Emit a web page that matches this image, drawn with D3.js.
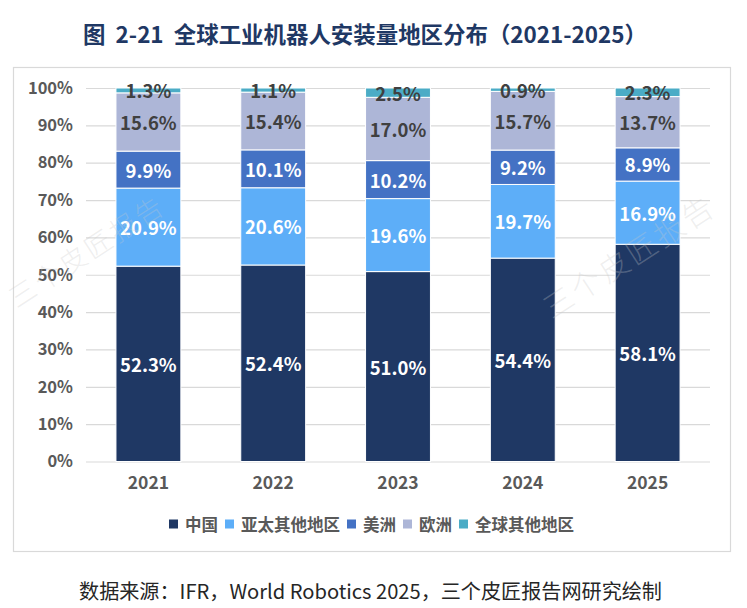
<!DOCTYPE html>
<html><head><meta charset="utf-8">
<script src="https://cdn.jsdelivr.net/npm/d3@7"></script>
<style>
body{margin:0;background:#fff;overflow:hidden}
text{font-family:'Noto Sans CJK SC','Noto Sans',sans-serif}
</style>
</head><body>
<svg id="c" width="747" height="608"></svg>
<script>
// ---- data ----
const years = ['2021','2022','2023','2024','2025'];
const seriesNames = ['中国','亚太其他地区','美洲','欧洲','全球其他地区'];
const china    = [52.3, 52.4, 51.0, 54.4, 58.1];
const apacOther= [20.9, 20.6, 19.6, 19.7, 16.9];
const americas = [9.9, 10.1, 10.2, 9.2, 8.9];
const europe   = [15.6, 15.4, 17.0, 15.7, 13.7];
const otherGlobal = [1.3, 1.1, 2.5, 0.9, 2.3];
const yTicks = [0,0.1,0.2,0.3,0.4,0.5,0.6,0.7,0.8,0.9,1.0];
const titleText = '图\u00A0\u00A02-21\u00A0\u00A0全球工业机器人安装量地区分布（2021-2025）';
const sourceText = '数据来源：IFR，World Robotics 2025，三个皮匠报告网研究绘制';
const watermarkText = '三个皮匠报告';

const colors = ['#1F3864','#5DAEF8','#4472C4','#ADB6D7','#4BACC6'];
const labelColors = ['#ffffff','#ffffff','#ffffff','#404040','#404040'];

const seriesVals = [china, apacOther, americas, europe, otherGlobal];
const table = years.map((y,i)=>{
  const o = {year:y};
  seriesNames.forEach((s,k)=>o[s]=seriesVals[k][i]);
  return o;
});

const svg = d3.select('#c');
svg.append('rect').attr('width',747).attr('height',608).attr('fill','#fff');

function fitWidth(sel, target){
  const node = sel.node();
  const fs = parseFloat(sel.attr('font-size'));
  const w = node.getComputedTextLength();
  if (w>0) sel.attr('font-size', (fs*target/w).toFixed(2));
}

// title
const title = svg.append('text').attr('x',365).attr('y',33)
  .attr('text-anchor','middle').attr('dominant-baseline','central')
  .attr('font-size',22).attr('font-weight','bold').attr('fill','#1F3864')
  .style('white-space','pre').text(titleText);
fitWidth(title, 564);

// frame
svg.append('rect').attr('x',13.5).attr('y',67.5).attr('width',717).attr('height',484)
  .attr('fill','none').attr('stroke','#d9d9d9').attr('stroke-width',1.2);

const x = d3.scaleBand().domain(years).range([86,710]).paddingInner(0.48).paddingOuter(0.24);
const y = d3.scaleLinear().domain([0,1]).range([461.5,88]);

// grid + y axis
const yAxis = d3.axisLeft(y).tickValues(yTicks).tickFormat(d3.format('.0%'))
  .tickSizeInner(-624).tickSizeOuter(0).tickPadding(13);
const gy = svg.append('g').attr('transform','translate(86,0)').call(yAxis);
gy.select('.domain').remove();
gy.selectAll('.tick line').attr('stroke','#d9d9d9').attr('stroke-width',1.2);
gy.selectAll('.tick text').attr('font-size',16.5).attr('font-weight','bold')
  .attr('fill','#595959').attr('font-family',"'Noto Sans CJK SC','Noto Sans',sans-serif");

// stacks
const stack = d3.stack().keys(seriesNames).offset(d3.stackOffsetExpand);
const stacked = stack(table);

const layers = svg.append('g').selectAll('g').data(stacked).join('g')
  .attr('fill',(d,i)=>colors[i]);
layers.selectAll('rect').data(d=>d).join('rect')
  .attr('x',d=>x(d.data.year))
  .attr('width',x.bandwidth())
  .attr('y',d=>y(d[1]))
  .attr('height',d=>y(d[0])-y(d[1]))
  .attr('stroke','#fff').attr('stroke-width',1);

// labels
stacked.forEach((layer,i)=>{
  svg.append('g').selectAll('text').data(layer).join('text')
    .attr('x',d=>x(d.data.year)+x.bandwidth()/2)
    .attr('y',d=>(y(d[0])+y(d[1]))/2)
    .attr('text-anchor','middle').attr('dominant-baseline','central')
    .attr('font-size',18.5).attr('font-weight','bold').attr('fill',labelColors[i])
    .text(d=>d.data[layer.key].toFixed(1)+'%');
});

// x axis
const xAxis = d3.axisBottom(x).tickSize(0).tickPadding(15);
const gx = svg.append('g').attr('transform','translate(0,461.5)').call(xAxis);
gx.select('.domain').remove();
gx.selectAll('.tick text').attr('font-size',17.5).attr('font-weight','bold')
  .attr('fill','#595959').attr('font-family',"'Noto Sans CJK SC','Noto Sans',sans-serif");

// legend
const legend = svg.append('g');
const items = legend.selectAll('g').data(seriesNames).join('g');
items.append('rect').attr('width',9).attr('height',9).attr('y',-4.5)
  .attr('fill',(d,i)=>colors[i]);
items.append('text').attr('x',16).attr('dominant-baseline','central')
  .attr('font-size',16.5).attr('font-weight','bold').attr('fill','#595959')
  .text(d=>d);
let cx = 0;
items.each(function(){
  const g = d3.select(this);
  g.attr('transform',`translate(${cx},0)`);
  const w = g.select('text').node().getComputedTextLength();
  cx += 16 + w + 7;
});
const totalW = cx - 7;
legend.attr('transform',`translate(${371.5-totalW/2},524)`);

// source
const src = svg.append('text').attr('x',370.5).attr('y',590)
  .attr('text-anchor','middle').attr('dominant-baseline','central')
  .attr('font-size',19).attr('fill','#262626').text(sourceText);
fitWidth(src, 583);

// faint watermarks
[[86,250,27],[628,255,30]].forEach(([wx,wy,fs])=>{
  svg.append('text').attr('transform',`translate(${wx},${wy}) rotate(-33)`)
    .attr('text-anchor','middle').attr('dominant-baseline','central')
    .attr('font-size',fs).attr('font-weight',300).attr('letter-spacing',3)
    .attr('fill','#c8c8c8').attr('fill-opacity',0.3)
    .text(watermarkText);
});
</script>
</body></html>
